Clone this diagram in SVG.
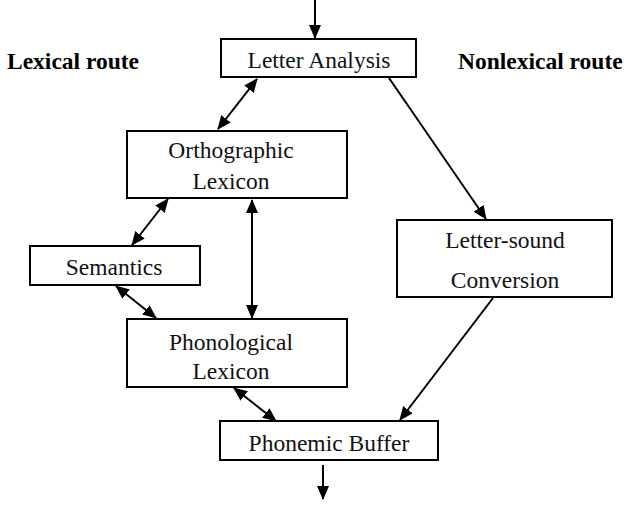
<svg xmlns="http://www.w3.org/2000/svg" width="630" height="506" viewBox="0 0 630 506">
<style>
.box{fill:#fff;stroke:#000;stroke-width:2}
.t{font-family:"Liberation Serif","Times New Roman",serif;font-size:23.5px;fill:#111;text-anchor:middle}
.h{font-family:"Liberation Serif","Times New Roman",serif;font-size:23.5px;font-weight:bold;fill:#000}
.c{stroke:#000;stroke-width:2;fill:none}
</style>
<defs>
<marker id="ah" markerUnits="userSpaceOnUse" markerWidth="14" markerHeight="12" refX="13" refY="6" orient="auto-start-reverse" viewBox="0 0 14 12">
<path d="M0,0 L14,6 L0,12 Z" fill="#000"/>
</marker>
</defs>
<rect width="630" height="506" fill="#fff"/>
<text class="h" x="7" y="69">Lexical route</text>
<text class="h" x="458" y="69">Nonlexical route</text>
<g id="connectors">
<line class="c" x1="315" y1="0" x2="315" y2="38" marker-end="url(#ah)"/>
<line class="c" x1="257" y1="79" x2="218" y2="129" marker-start="url(#ah)" marker-end="url(#ah)"/>
<line class="c" x1="389" y1="78" x2="486" y2="219" marker-end="url(#ah)"/>
<line class="c" x1="168" y1="199" x2="132" y2="245" marker-start="url(#ah)" marker-end="url(#ah)"/>
<line class="c" x1="252" y1="200" x2="252" y2="318" marker-start="url(#ah)" marker-end="url(#ah)"/>
<line class="c" x1="116" y1="286" x2="156" y2="318" marker-start="url(#ah)" marker-end="url(#ah)"/>
<line class="c" x1="234" y1="388" x2="276" y2="421" marker-start="url(#ah)" marker-end="url(#ah)"/>
<line class="c" x1="493" y1="298" x2="400" y2="420" marker-end="url(#ah)"/>
<line class="c" x1="323" y1="465" x2="323" y2="499" marker-end="url(#ah)"/>
</g>
<g id="letter-analysis">
<rect class="box" x="221" y="39" width="195" height="38"/>
<text class="t" x="319" y="68">Letter Analysis</text>
</g>
<g id="orthographic-lexicon">
<rect class="box" x="127" y="131" width="220" height="67"/>
<text class="t" x="231" y="158">Orthographic</text>
<text class="t" x="231" y="189">Lexicon</text>
</g>
<g id="semantics">
<rect class="box" x="30" y="246" width="170" height="39"/>
<text class="t" x="114" y="275">Semantics</text>
</g>
<g id="phonological-lexicon">
<rect class="box" x="127" y="319" width="220" height="68"/>
<text class="t" x="231" y="350">Phonological</text>
<text class="t" x="231" y="379">Lexicon</text>
</g>
<g id="letter-sound-conversion">
<rect class="box" x="397" y="220" width="215" height="77"/>
<text class="t" x="505" y="248">Letter-sound</text>
<text class="t" x="505" y="288">Conversion</text>
</g>
<g id="phonemic-buffer">
<rect class="box" x="220" y="421" width="218" height="39"/>
<text class="t" x="329" y="451">Phonemic Buffer</text>
</g>
</svg>
